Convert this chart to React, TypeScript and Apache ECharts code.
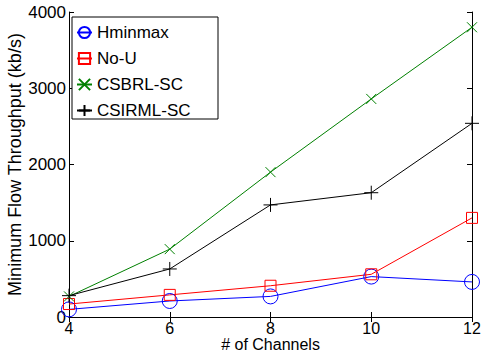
import React, { useEffect, useRef } from "react";
import * as echarts from "echarts";

const channels = [4, 6, 8, 10, 12];
const hminmax = [100, 210, 270, 530, 460];
const noU = [170, 290, 410, 560, 1300];
const csbrl = [270, 890, 1900, 2860, 3800];
const csirml = [280, 630, 1470, 1630, 2540];
const seriesNames = ["Hminmax", "No-U", "CSBRL-SC", "CSIRML-SC"];

const FONT = "Liberation Sans, Arial, Helvetica, sans-serif";

const CIRCLE = "path://M0,-1A1,1 0 1,1 0,1A1,1 0 1,1 0,-1Z";
const SQUARE = "path://M0,0L1,0L1,1L0,1Z";
const CROSS = "path://M0,0L1,1M1,0L0,1";
const PLUS = "path://M0.5,0L0.5,1M0,0.5L1,0.5";

function pairs(ys: number[]) {
  return channels.map((x, i) => [x, ys[i]]);
}

function lineSeries(name: string, ys: number[], color: string, symbol: string, size: number) {
  return {
    name,
    type: "line",
    data: pairs(ys),
    symbol,
    symbolSize: size,
    showAllSymbol: true,
    lineStyle: { color, width: 1 },
    itemStyle: { color: "none", borderColor: color, borderWidth: 1 },
    emphasis: { disabled: true },
    z: 3,
  };
}

export default function App() {
  const ref = useRef<HTMLDivElement>(null);

  useEffect(() => {
    if (!ref.current) return;
    const chart = echarts.init(ref.current, undefined, { renderer: "svg" });
    const axisLine = { show: true, lineStyle: { color: "#000", width: 1 } };
    const tickIn = { show: true, inside: true, length: 5, lineStyle: { color: "#000", width: 1 } };
    const plain = (v: number) => String(v);
    chart.setOption({
      animation: false,
      backgroundColor: "#fff",
      grid: {
        left: 69,
        right: 9,
        top: 12,
        bottom: 37,
        containLabel: false,
        outerBoundsMode: "none",
      },
      graphic: [
        {
          type: "rect",
          shape: { x: 72, y: 17, width: 146, height: 102 },
          style: { fill: "#fff", stroke: "#000", lineWidth: 1 },
          z: 10,
        },
      ],
      legend: {
        orient: "vertical",
        left: 72,
        top: 17,
        z: 20,
        data: seriesNames,
        padding: [7, 4, 4, 4],
        itemWidth: 15,
        itemHeight: 14,
        itemGap: 9,
        textStyle: { fontFamily: FONT, fontSize: 17, color: "#000" },
      },
      xAxis: [
        {
          type: "value",
          min: 4,
          max: 12,
          interval: 2,
          name: "# of Channels",
          nameLocation: "middle",
          nameGap: 19.5,
          nameMoveOverlap: false,
          nameTextStyle: { fontFamily: FONT, fontSize: 16, color: "#000" },
          axisLine,
          axisTick: tickIn,
          axisLabel: { fontFamily: FONT, fontSize: 16, color: "#000", margin: 3, formatter: plain },
          splitLine: { show: false },
        },
        {
          type: "value",
          position: "top",
          min: 4,
          max: 12,
          interval: 2,
          axisLine,
          axisTick: tickIn,
          axisLabel: { show: false },
          splitLine: { show: false },
        },
      ],
      yAxis: [
        {
          type: "value",
          min: 0,
          max: 4000,
          interval: 1000,
          name: "Minimum Flow Throughput (kb/s)",
          nameLocation: "middle",
          nameGap: 45,
          nameMoveOverlap: false,
          nameTextStyle: { fontFamily: FONT, fontSize: 18, color: "#000" },
          axisLine,
          axisTick: tickIn,
          axisLabel: { fontFamily: FONT, fontSize: 17, color: "#000", margin: 3, formatter: plain },
          splitLine: { show: false },
        },
        {
          type: "value",
          position: "right",
          min: 0,
          max: 4000,
          interval: 1000,
          axisLine,
          axisTick: tickIn,
          axisLabel: { show: false },
          splitLine: { show: false },
        },
      ],
      series: [
        lineSeries(seriesNames[0], hminmax, "#0000ff", CIRCLE, 15),
        lineSeries(seriesNames[1], noU, "#ff0000", SQUARE, 11),
        lineSeries(seriesNames[2], csbrl, "#008000", CROSS, 10),
        lineSeries(seriesNames[3], csirml, "#000000", PLUS, 14),
      ],
    });
    return () => chart.dispose();
  }, []);

  return (
    <div
      ref={ref}
      style={{ position: "fixed", left: 0, top: 0, width: 481, height: 354, background: "#fff" }}
    />
  );
}
